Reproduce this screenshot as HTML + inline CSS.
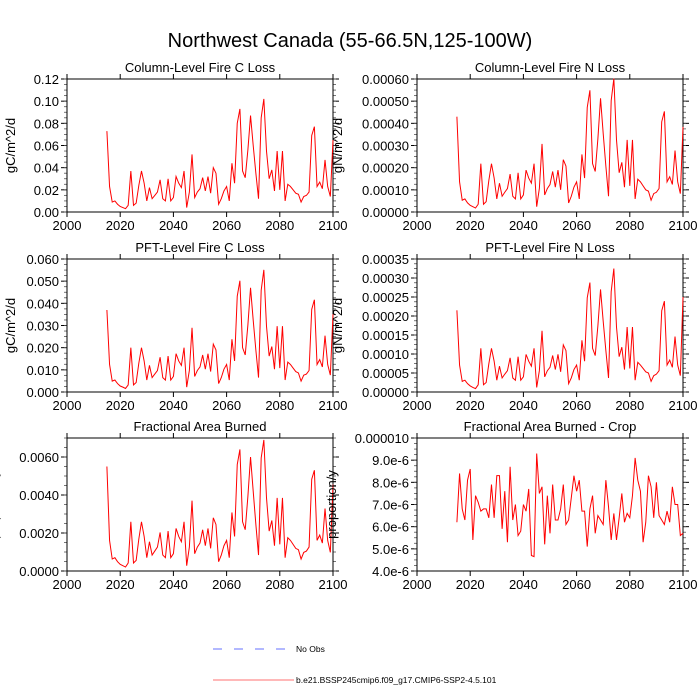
<!DOCTYPE html>
<html><head><meta charset="utf-8"><style>
html,body{margin:0;padding:0;background:#fff;}
svg{display:block;font-family:"Liberation Sans",sans-serif;}
</style></head><body>
<svg id="chart" width="700" height="700" viewBox="0 0 700 700" xmlns="http://www.w3.org/2000/svg">
<text x="350" y="47" font-size="20" text-anchor="middle">Northwest Canada (55-66.5N,125-100W)</text>
<g id="panels"></g>
<g>
<line x1="213" y1="649" x2="288" y2="649" stroke="#6670ff" stroke-width="1" stroke-dasharray="9,12"/>
<text x="296" y="652" font-size="8.5">No Obs</text>
<line x1="213" y1="680" x2="294" y2="680" stroke="#ff7070" stroke-width="1"/>
<text x="296" y="683" font-size="8.5">b.e21.BSSP245cmip6.f09_g17.CMIP6-SSP2-4.5.101</text>
</g>
</svg>
<script>
const years = [];
for (let y = 2015; y <= 2100; y++) years.push(y);
const xTicks = [2000, 2020, 2040, 2060, 2080, 2100];

const colC = [0.073,0.023,0.009,0.010,0.007,0.005,0.004,0.003,0.006,0.037,0.006,0.008,0.024,0.037,0.026,0.010,0.022,0.012,0.015,0.018,0.029,0.012,0.010,0.030,0.010,0.013,0.032,0.026,0.022,0.037,0.004,0.018,0.052,0.013,0.018,0.021,0.031,0.019,0.032,0.017,0.040,0.035,0.007,0.012,0.019,0.023,0.010,0.044,0.026,0.080,0.093,0.037,0.031,0.056,0.087,0.060,0.035,0.012,0.085,0.102,0.055,0.030,0.038,0.019,0.055,0.020,0.055,0.010,0.025,0.023,0.020,0.017,0.016,0.009,0.014,0.015,0.018,0.069,0.077,0.023,0.027,0.021,0.047,0.023,0.014,0.065];
const colN = [43e-5,13.6e-5,5.3e-5,5.9e-5,4.1e-5,3e-5,2.4e-5,1.8e-5,3.5e-5,21.8e-5,3.5e-5,4.7e-5,14.2e-5,21.8e-5,15.3e-5,5.9e-5,13e-5,7.1e-5,8.9e-5,10.6e-5,17.1e-5,7.1e-5,5.9e-5,17.7e-5,5.9e-5,7.7e-5,18.9e-5,15.3e-5,13e-5,21.8e-5,2.4e-5,10.6e-5,30.7e-5,7.7e-5,10.6e-5,12.4e-5,18.3e-5,11.2e-5,18.9e-5,10e-5,23.6e-5,20.7e-5,4.1e-5,7.1e-5,11.2e-5,13.6e-5,5.9e-5,26e-5,15.3e-5,47.2e-5,54.9e-5,21.8e-5,18.3e-5,33e-5,51.3e-5,35.4e-5,20.7e-5,7.1e-5,50.2e-5,60.2e-5,32.5e-5,17.7e-5,22.4e-5,11.2e-5,32.5e-5,11.8e-5,32.5e-5,5.9e-5,14.8e-5,13.6e-5,11.8e-5,10e-5,9.4e-5,5.3e-5,8.3e-5,8.9e-5,10.6e-5,40.7e-5,45.4e-5,13.6e-5,15.9e-5,12.4e-5,27.7e-5,13.6e-5,8.3e-5,38.4e-5];
const pftC = [0.037,0.0124,0.0049,0.0054,0.0038,0.0027,0.0022,0.0016,0.0032,0.020,0.0032,0.0043,0.013,0.020,0.014,0.0054,0.012,0.0065,0.0081,0.0097,0.0157,0.0065,0.0054,0.0162,0.0054,0.007,0.0173,0.014,0.012,0.020,0.0022,0.0097,0.029,0.007,0.0097,0.0113,0.0167,0.0103,0.0173,0.0092,0.0216,0.019,0.0038,0.0065,0.0103,0.0124,0.0054,0.0238,0.014,0.0432,0.0502,0.020,0.0167,0.0302,0.047,0.0324,0.0189,0.0065,0.0459,0.0551,0.0297,0.0162,0.0205,0.0103,0.0297,0.0108,0.0297,0.0054,0.0135,0.0124,0.0108,0.0092,0.0086,0.0049,0.0076,0.0081,0.0097,0.0373,0.0416,0.0124,0.0146,0.0113,0.0254,0.0124,0.0076,0.0351];
const pftN = [21.5e-5,7.1e-5,2.8e-5,3.1e-5,2.2e-5,1.6e-5,1.2e-5,0.9e-5,1.9e-5,11.5e-5,1.9e-5,2.5e-5,7.4e-5,11.5e-5,8.1e-5,3.1e-5,6.8e-5,3.7e-5,4.7e-5,5.6e-5,9e-5,3.7e-5,3.1e-5,9.3e-5,3.1e-5,4e-5,9.9e-5,8.1e-5,6.8e-5,11.5e-5,1.2e-5,5.6e-5,16.1e-5,4e-5,5.6e-5,6.5e-5,9.6e-5,5.9e-5,9.9e-5,5.3e-5,12.4e-5,10.9e-5,2.2e-5,3.7e-5,5.9e-5,7.1e-5,3.1e-5,13.6e-5,8.1e-5,24.8e-5,28.8e-5,11.5e-5,9.6e-5,17.4e-5,27e-5,18.6e-5,10.9e-5,3.7e-5,26.4e-5,32.5e-5,17.1e-5,9.3e-5,11.8e-5,5.9e-5,17.1e-5,6.2e-5,17.1e-5,3.1e-5,7.8e-5,7.1e-5,6.2e-5,5.3e-5,5e-5,2.8e-5,4.3e-5,4.7e-5,5.6e-5,21.4e-5,23.9e-5,7.1e-5,8.4e-5,6.5e-5,14.6e-5,7.1e-5,4.3e-5,25e-5];
const fab = [55e-4,16.1e-4,6.3e-4,7e-4,4.9e-4,3.5e-4,2.8e-4,2.1e-4,4.2e-4,25.9e-4,4.2e-4,5.6e-4,16.8e-4,25.9e-4,18.2e-4,7e-4,15.4e-4,8.4e-4,10.5e-4,12.6e-4,20.3e-4,8.4e-4,7e-4,21e-4,7e-4,9.1e-4,22.4e-4,18.2e-4,15.4e-4,25.9e-4,2.8e-4,12.6e-4,37e-4,9.1e-4,12.6e-4,14.7e-4,21.7e-4,13.3e-4,22.4e-4,11.9e-4,28e-4,24.5e-4,4.9e-4,8.4e-4,13.3e-4,16.1e-4,7e-4,30.8e-4,18.2e-4,56e-4,64e-4,25.9e-4,21.7e-4,39.2e-4,60e-4,42e-4,24.5e-4,8.4e-4,59.5e-4,69e-4,38.5e-4,21e-4,26.6e-4,13.3e-4,38.5e-4,14e-4,38.5e-4,7e-4,17.5e-4,16.1e-4,14e-4,11.9e-4,11.2e-4,6.3e-4,9.8e-4,10.5e-4,12.6e-4,48.3e-4,53e-4,16.1e-4,18.9e-4,14.7e-4,32.9e-4,16.1e-4,9.8e-4,45.5e-4];
const fabCrop = [6.2e-6,8.4e-6,6.8e-6,6.3e-6,8.1e-6,8.6e-6,5.4e-6,7.4e-6,7.1e-6,6.7e-6,6.8e-6,6.8e-6,6.4e-6,7.9e-6,6.4e-6,8.3e-6,8.3e-6,5.9e-6,7.6e-6,5.3e-6,8.7e-6,6.3e-6,7.0e-6,5.6e-6,5.8e-6,7.0e-6,6.7e-6,7.7e-6,4.7e-6,4.65e-6,9.3e-6,7.5e-6,7.8e-6,5.2e-6,7.4e-6,5.7e-6,7.9e-6,6.3e-6,6.3e-6,6.8e-6,7.9e-6,6.1e-6,6.3e-6,7.3e-6,8.3e-6,7.6e-6,8.1e-6,6.7e-6,6.7e-6,5.1e-6,6.8e-6,7.4e-6,5.7e-6,6.5e-6,6.3e-6,6.1e-6,8.1e-6,6.9e-6,5.4e-6,6.6e-6,5.4e-6,6.4e-6,7.5e-6,6.2e-6,6.6e-6,6.4e-6,7.4e-6,9.1e-6,8.1e-6,7.6e-6,5.3e-6,6.2e-6,8.3e-6,7.8e-6,6.4e-6,8.0e-6,6.5e-6,6.3e-6,6.1e-6,6.7e-6,6.2e-6,7.8e-6,7.0e-6,7.0e-6,5.6e-6,5.7e-6];

const tickColC = ["0.00","0.02","0.04","0.06","0.08","0.10","0.12"];
const tickColN = ["0.00000","0.00010","0.00020","0.00030","0.00040","0.00050","0.00060"];
const tickPftC = ["0.000","0.010","0.020","0.030","0.040","0.050","0.060"];
const tickPftN = ["0.00000","0.00005","0.00010","0.00015","0.00020","0.00025","0.00030","0.00035"];
const tickFab = ["0.0000","0.0020","0.0040","0.0060"];
const tickCrop = ["4.0e-6","5.0e-6","6.0e-6","7.0e-6","8.0e-6","9.0e-6","0.000010"];

const NS = "http://www.w3.org/2000/svg";
const root = document.getElementById('panels');
function mk(tag, attrs, parent) {
  const e = document.createElementNS(NS, tag);
  for (const k in attrs) e.setAttribute(k, attrs[k]);
  parent.appendChild(e);
  return e;
}

const panels = [
  {name:'column-fire-c-loss', title:'Column-Level Fire C Loss', ytitle:'gC/m^2/d', x0:67, y0:79, data:colC, ymin:0, ymax:0.12, ticks:tickColC, major:0.02, yt:10},
  {name:'column-fire-n-loss', title:'Column-Level Fire N Loss', ytitle:'gN/m^2/d', x0:417, y0:79, data:colN, ymin:0, ymax:0.0006, ticks:tickColN, major:0.0001, yt:337},
  {name:'pft-fire-c-loss', title:'PFT-Level Fire C Loss', ytitle:'gC/m^2/d', x0:67, y0:259, data:pftC, ymin:0, ymax:0.06, ticks:tickPftC, major:0.01, yt:10},
  {name:'pft-fire-n-loss', title:'PFT-Level Fire N Loss', ytitle:'gN/m^2/d', x0:417, y0:259, data:pftN, ymin:0, ymax:0.00035, ticks:tickPftN, major:0.00005, yt:337},
  {name:'fractional-area-burned', title:'Fractional Area Burned', ytitle:'proportion/y', x0:67, y0:438, data:fab, ymin:0, ymax:0.007, ticks:tickFab, major:0.002, yt:-7},
  {name:'fractional-area-burned-crop', title:'Fractional Area Burned - Crop', ytitle:'proportion/y', x0:417, y0:438, data:fabCrop, ymin:4e-6, ymax:1e-5, ticks:tickCrop, major:1e-6, yt:331}
];
const W = 266, H = 133;

panels.forEach(p => {
  const g = mk('g', {}, root);
  
  
  const xs = v => p.x0 + (v - 2000) / 100 * W;
  const ys = v => p.y0 + H - (v - p.ymin) / (p.ymax - p.ymin) * H;
  const t = mk('text', {x: p.x0 + W/2, y: p.y0 - 7, 'font-size': 13, 'text-anchor':'middle'}, g);
  t.textContent = p.title;
  
  
  const yt = mk('text', {x: p.yt, y: p.y0 + H/2, 'font-size': 13, 'text-anchor':'middle', transform:`rotate(-90 ${p.yt} ${p.y0 + H/2})`, dy:'5'}, g);
  yt.textContent = p.ytitle;
  
  
  xTicks.forEach(v => {
    const x = xs(v);
    mk('line', {x1:x, y1:p.y0 + H, x2:x, y2:p.y0 + H + 5, stroke:'#000', 'stroke-width':1}, g);
    mk('line', {x1:x, y1:p.y0, x2:x, y2:p.y0 - 5, stroke:'#000', 'stroke-width':1}, g);
    const l = mk('text', {x:x, y:p.y0 + H + 18, 'font-size':13, 'text-anchor':'middle'}, g);
    l.textContent = v;
    
    
  });
  p.ticks.forEach((lab, i) => {
    const v = p.ymin + i * p.major;
    const y = ys(v);
    mk('line', {x1:p.x0, y1:y, x2:p.x0 - 6, y2:y, stroke:'#000', 'stroke-width':1}, g);
    mk('line', {x1:p.x0 + W, y1:y, x2:p.x0 + W + 6, y2:y, stroke:'#000', 'stroke-width':1}, g);
    const l = mk('text', {x:p.x0 - 8, y:y + 5, 'font-size':13, 'text-anchor':'end'}, g);
    l.textContent = lab;
    
    
  });
  const minor = p.major / 4;
  for (let v = p.ymin; v <= p.ymax + 1e-12; v += minor) {
    const y = ys(v);
    mk('line', {x1:p.x0, y1:y, x2:p.x0 - 3, y2:y, stroke:'#555', 'stroke-width':0.8}, g);
    mk('line', {x1:p.x0 + W, y1:y, x2:p.x0 + W + 3, y2:y, stroke:'#555', 'stroke-width':0.8}, g);
  }
  const fr = mk('rect', {x:p.x0, y:p.y0, width:W, height:H, fill:'none', stroke:'#000', 'stroke-width':1}, g);
  
  
  const pts = p.data.map((v, i) => xs(years[i]).toFixed(2) + ',' + ys(v).toFixed(2)).join(' ');
  const line = mk('polyline', {points: pts, fill:'none', stroke:'#ff0000', 'stroke-width':1}, g);
  
  
});
</script>
</body></html>
